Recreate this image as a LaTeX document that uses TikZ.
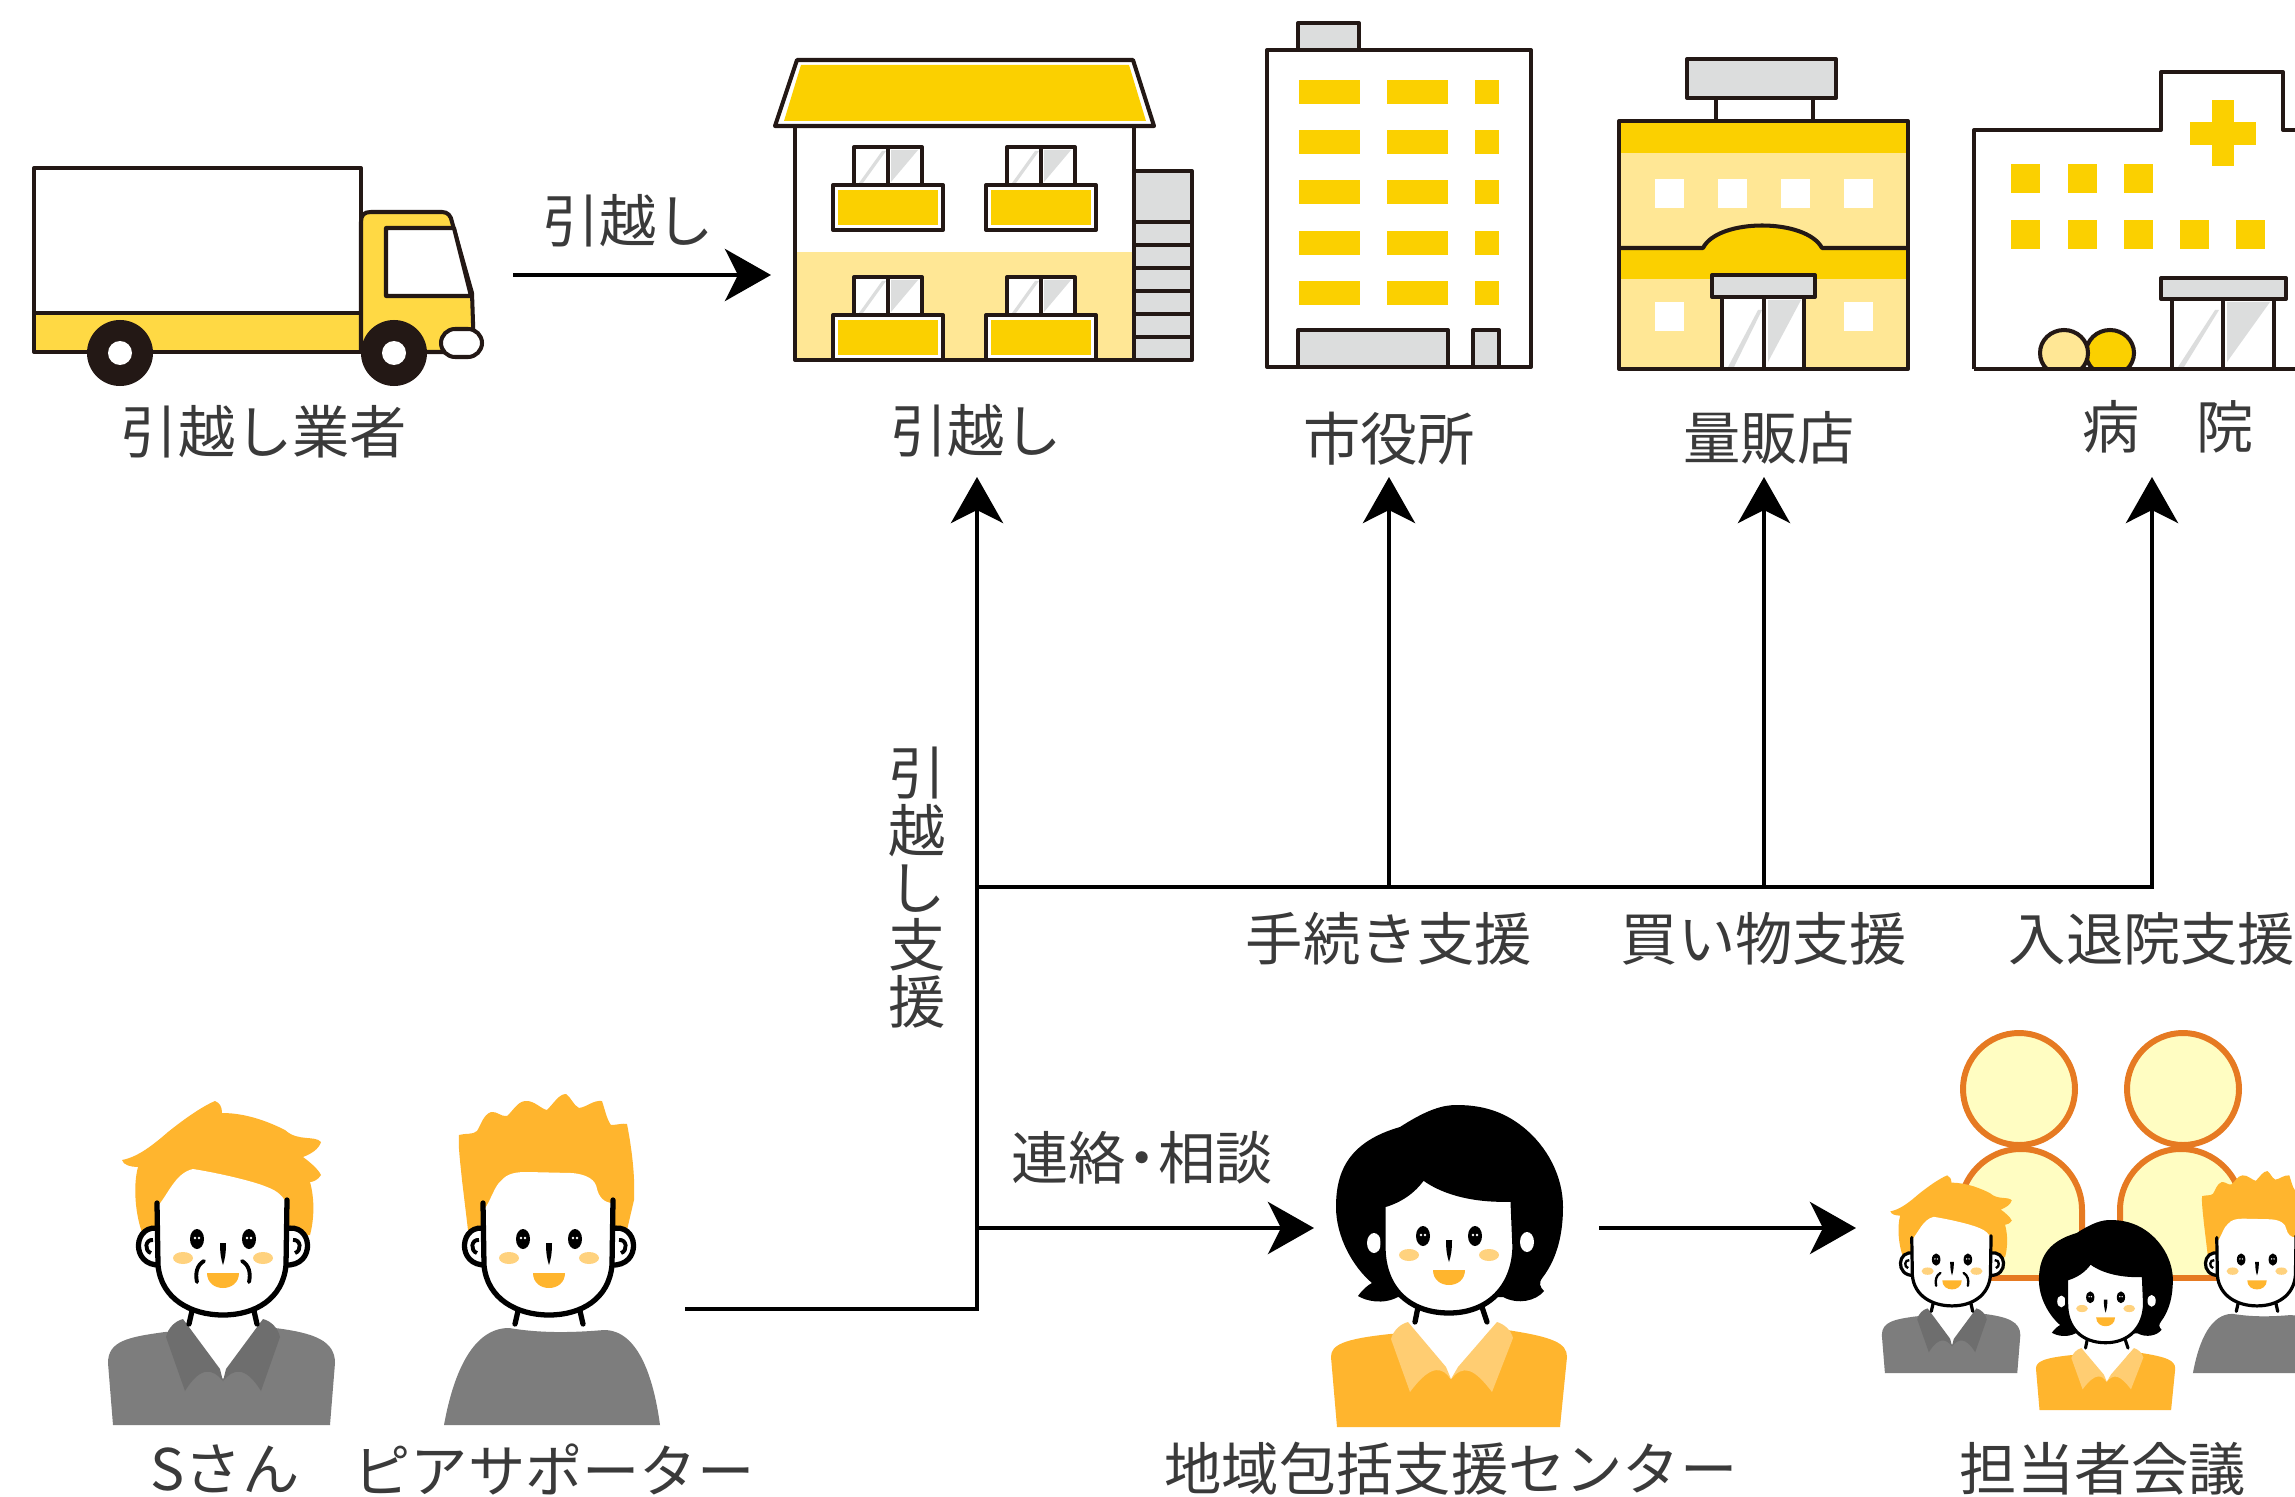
\documentclass[tikz,border=0pt]{standalone}
\usepackage{fontspec}
\setmainfont{Noto Sans CJK JP}
\usetikzlibrary{arrows.meta}

\definecolor{ink}{HTML}{231815}
\definecolor{yel}{HTML}{FBD000}
\definecolor{paleyel}{HTML}{FFE795}
\definecolor{truckyel}{HTML}{FFD944}
\definecolor{lgray}{HTML}{DCDDDD}
\definecolor{txt}{HTML}{3A3A3A}
\definecolor{hairc}{HTML}{FFB52E}
\definecolor{cheekc}{HTML}{FFD27E}
\definecolor{shirtc}{HTML}{7D7D7D}
\definecolor{collarc}{HTML}{6E6E6E}
\definecolor{lcollarc}{HTML}{FFCD72}
\definecolor{ghostfill}{HTML}{FFFDC2}
\definecolor{ghostline}{HTML}{E67A22}

\tikzset{
	build/.style={draw=ink, line width=1.15pt, line join=round},
	arr/.style={line width=1.3pt, -{Stealth[length=4.6mm,width=5.2mm,inset=1.3mm]}},
	lab/.style={text=txt, inner sep=0pt, font=\fontsize{16.3pt}{16.3pt}\selectfont},
}

% balcony with window, #1 = centre x, #2 = top of window
\newcommand{\balcony}[2]{
	\filldraw[build, fill=white] (#1-34,#2) rectangle (#1+34,#2+38);
	\fill[lgray] (#1-29,#2+36) -- (#1-6,#2+4) -- (#1-2,#2+4) -- (#1-25,#2+36) -- cycle;
	\fill[lgray] (#1+3,#2+3) -- (#1+30,#2+3) -- (#1+3,#2+35) -- cycle;
	\draw[build] (#1,#2) -- (#1,#2+38);
	\filldraw[build, fill=white] (#1-55,#2+38) rectangle (#1+55,#2+83);
	\fill[yel] (#1-50,#2+43) rectangle (#1+50,#2+78);
}

% eyes, nose, cheeks and mouth
\newcommand{\faceparts}{
	\foreach \s in {1,-1}{
		\fill[black] (\s*26,-186) ellipse [x radius=7, y radius=10];
		\fill[white] (\s*26-2,-187) circle (1.3) (\s*26+2,-187) circle (1.3);
		\fill[cheekc] (\s*40,-167) ellipse [x radius=10, y radius=6];
	}
	\fill[black] (-3,-182) .. controls (-3,-172) and (-2,-166) .. (0,-160) .. controls (2,-166) and (3,-172) .. (3,-182) -- cycle;
	\fill[hairc] (-16,-152) -- (16,-152) .. controls (16,-142) and (8,-137) .. (0,-137) .. controls (-8,-137) and (-16,-142) .. (-16,-152) -- cycle;
}

% ears, chin line and neck of the two men
\newcommand{\manhead}{
	\foreach \s in {1,-1}{
		\begin{scope}[xscale=\s]
		\filldraw[fill=white, draw=black, line width=\lw pt] (-62,-196) .. controls (-90,-204) and (-94,-158) .. (-62,-160);
		\draw[black, line width=\lwt pt] (-70,-185) .. controls (-78,-186) and (-79,-174) .. (-72,-172);
		\draw[black, line width=\lw pt, line cap=round] (-31,-114) -- (-34,-101);
		\end{scope}
	}
}
\newcommand{\chinline}{
	\draw[black, line width=\lw pt, line cap=round] (-66,-222) -- (-65,-160) .. controls (-62,-126) and (-32,-110) .. (0,-110) .. controls (32,-110) and (60,-126) .. (63,-160) -- (64,-225);
}

\newcommand{\oldman}[3]{
	\begin{scope}[shift={(#1,#2)},scale=#3]
	\pgfmathsetmacro\lw{1.5*#3}
	\pgfmathsetmacro\lwt{1.1*#3}
	\fill[shirtc] (-110,0) -- (-115,-62) .. controls (-115,-84) and (-95,-88) .. (-58,-93) -- (52,-97) .. controls (92,-92) and (112,-84) .. (112,-62) -- (107,0) -- cycle;
	\fill[white] (-42,-106) -- (0,-46) -- (42,-106) -- cycle;
	\foreach \s in {1,-1}{
		\fill[collarc, xscale=\s] (-40,-106) -- (-3,-56) -- (0,-44) .. controls (-10,-56) and (-22,-60) .. (-38,-34) -- (-57,-88) .. controls (-55,-97) and (-48,-104) .. (-40,-106) -- cycle;
	}
	\fill[hairc] (-101,-265) .. controls (-85,-268) and (-70,-280) .. (-55,-293) .. controls (-40,-305) and (-22,-318) .. (-8,-324) .. controls (-3,-322) and (-1,-318) .. (-1,-312) .. controls (25,-312) and (48,-302) .. (62,-295) .. controls (75,-283) and (92,-290) .. (98,-283) .. controls (96,-276) and (88,-271) .. (80,-268) .. controls (88,-262) and (95,-256) .. (98,-250) .. controls (95,-245) and (90,-243) .. (87,-243) .. controls (92,-225) and (91,-205) .. (87,-190) -- (-80,-190) .. controls (-88,-210) and (-90,-240) .. (-85,-258) .. controls (-92,-258) and (-100,-260) .. (-101,-265) -- cycle;
	\manhead
	\fill[white] (-66,-218) .. controls (-55,-230) and (-48,-252) .. (-30,-256) .. controls (-5,-252) and (30,-244) .. (44,-238) .. controls (55,-234) and (61,-228) .. (64,-220) -- (63,-160) .. controls (60,-126) and (32,-110) .. (0,-110) .. controls (-32,-110) and (-62,-126) .. (-65,-160) -- cycle;
	\chinline
	\faceparts
	\foreach \s in {1,-1}{
		\draw[black, xscale=\s, line width=\lwt pt, line cap=round] (-19,-164) .. controls (-26,-160) and (-28,-152) .. (-26,-143);
	}
	\end{scope}
}

\newcommand{\peer}[3]{
	\begin{scope}[shift={(#1,#2)},scale=#3]
	\pgfmathsetmacro\lw{1.5*#3}
	\pgfmathsetmacro\lwt{1.1*#3}
	\fill[shirtc] (-105,0) .. controls (-95,-55) and (-75,-97) .. (-40,-97) .. controls (-10,-92) and (20,-92) .. (55,-95) .. controls (90,-95) and (105,-45) .. (111,0) -- cycle;
	\fill[hairc] (-90,-290) .. controls (-84,-292) and (-76,-290) .. (-72,-294) .. controls (-68,-300) and (-66,-310) .. (-58,-313) .. controls (-52,-314) and (-48,-308) .. (-42,-309) .. controls (-36,-314) and (-32,-323) .. (-24,-324) .. controls (-15,-325) and (-8,-316) .. (-2,-315) .. controls (5,-322) and (10,-331) .. (17,-331) .. controls (22,-328) and (24,-320) .. (30,-317) .. controls (38,-318) and (44,-325) .. (53,-324) .. controls (56,-315) and (58,-305) .. (62,-300) .. controls (68,-300) and (73,-302) .. (78,-301) .. controls (84,-270) and (86,-245) .. (85,-225) -- (78,-195) -- (-81,-195) -- (-87,-245) .. controls (-89,-265) and (-91,-280) .. (-90,-290) -- cycle;
	\manhead
	\fill[white] (-65,-215) .. controls (-58,-225) and (-54,-240) .. (-48,-244) .. controls (-42,-252) and (-32,-253) .. (-22,-253) -- (22,-252) .. controls (38,-251) and (47,-245) .. (48,-236) .. controls (50,-228) and (55,-222) .. (64,-222) -- (63,-160) .. controls (60,-126) and (32,-110) .. (0,-110) .. controls (-32,-110) and (-62,-126) .. (-65,-160) -- cycle;
	\chinline
	\faceparts
	\end{scope}
}

\newcommand{\helper}[3]{
	\begin{scope}[shift={(#1,#2)},scale=#3]
	\pgfmathsetmacro\lw{1.5*#3}
	\fill[hairc] (-111,0) -- (-117,-70) .. controls (-117,-82) and (-105,-88) .. (-58,-93) -- (59,-97) .. controls (105,-90) and (119,-84) .. (119,-70) -- (112,0) -- cycle;
	\fill[white] (-42,-107) -- (3,-48) -- (50,-107) -- cycle;
	\fill[lcollarc] (-40,-105) -- (-2,-60) -- (3,-48) .. controls (-5,-58) and (-15,-66) .. (-38,-35) -- (-57,-88) .. controls (-55,-96) and (-48,-103) .. (-40,-105) -- cycle;
	\fill[lcollarc] (49,-105) .. controls (56,-103) and (63,-97) .. (65,-89) -- (44,-35) .. controls (25,-60) and (15,-62) .. (3,-48) -- (10,-60) -- cycle;
	\draw[black, line width=\lw pt, line cap=round] (-30,-120) -- (-33,-105) (34,-120) -- (39,-105);
	\fill[black] (-48,-300) .. controls (-20,-318) and (-5,-322) .. (9,-322) .. controls (40,-322) and (60,-312) .. (75,-300) .. controls (100,-280) and (115,-250) .. (115,-220) .. controls (115,-195) and (110,-170) .. (95,-150) .. controls (90,-144) and (92,-140) .. (96,-136) .. controls (88,-126) and (70,-122) .. (55,-130) -- (-50,-130) .. controls (-65,-122) and (-82,-126) .. (-90,-131) .. controls (-85,-138) and (-80,-142) .. (-76,-144) .. controls (-95,-160) and (-112,-190) .. (-112,-220) .. controls (-112,-255) and (-100,-285) .. (-48,-300) -- cycle;
	\fill[white] (-74,-184) ellipse [x radius=7, y radius=10] (79,-185) ellipse [x radius=7, y radius=10];
	\filldraw[fill=white, draw=black, line width=\lw pt] (-65,-222) .. controls (-50,-226) and (-35,-235) .. (-25,-250) .. controls (-10,-238) and (20,-226) .. (65,-228) -- (67,-180) .. controls (66,-140) and (40,-114) .. (1,-114) .. controls (-40,-114) and (-65,-140) .. (-65,-180) -- cycle;
	\begin{scope}[shift={(1,-5)}]
	\faceparts
	\end{scope}
	\end{scope}
}

\begin{document}
\begin{tikzpicture}[x=0.1mm,y=-0.1mm]
	\useasboundingbox (0,0) rectangle (2295,1497);
	\fill[white] (0,0) rectangle (2295,1497);
	\clip (0,0) rectangle (2295,1497);

	% truck
	\filldraw[build, fill=white] (34,168) rectangle (361,313);
	\filldraw[build, fill=truckyel] (34,313) rectangle (361,352);
	\filldraw[build, fill=truckyel] (361,352) -- (361,222) .. controls (361,215) and (364,212) .. (371,212) -- (442,212) .. controls (448,212) and (451,216) .. (452,222) -- (472,293) -- (474,352) -- cycle;
	\filldraw[build, fill=white] (386,228) -- (454,228) -- (471,296) -- (386,296) -- cycle;
	\filldraw[build, fill=white, rounded corners=4] (441,329) rectangle (482,357);
	\foreach \wx in {120,394}{
		\fill[ink] (\wx,353) circle (33);
		\fill[white] (\wx,353) circle (12);
	}

	% apartment house
	\filldraw[build, fill=white] (775,126) -- (797,60) -- (1133,60) -- (1154,126) -- cycle;
	\fill[yel] (784,121) -- (801,65) -- (1129,65) -- (1146,121) -- cycle;
	\fill[paleyel] (795,252) rectangle (1134,360);
	\draw[build] (795,126) rectangle (1134,360);
	\filldraw[build, fill=lgray] (1134,171) rectangle (1192,222);
	\foreach \i in {0,...,5}{
		\filldraw[build, fill=lgray] (1134,222+23*\i) rectangle (1192,245+23*\i);
	}
	\foreach \bx/\by in {888/147,1041/147,888/277,1041/277}{
		\balcony{\bx}{\by}
	}

	% city hall
	\filldraw[build, fill=lgray] (1298,23) rectangle (1359,50);
	\draw[build] (1267,50) rectangle (1531,367);
	\foreach \y in {80,130,180,231,281}{
		\fill[yel] (1299,\y) rectangle (1360,\y+24);
		\fill[yel] (1387,\y) rectangle (1448,\y+24);
		\fill[yel] (1475,\y) rectangle (1499,\y+24);
	}
	\filldraw[build, fill=lgray] (1298,367) rectangle (1448,330);
	\filldraw[build, fill=lgray] (1473,367) rectangle (1499,330);

	% store
	\fill[paleyel] (1619,121) rectangle (1908,369);
	\fill[yel] (1619,121) rectangle (1908,153);
	\fill[yel] (1619,248) rectangle (1908,279);
	\fill[yel] (1703,248) .. controls (1718,218) and (1806,218) .. (1822,248) -- cycle;
	\foreach \x in {1655,1718,1781,1844}{
		\fill[white] (\x,179) rectangle (\x+29,208);
	}
	\foreach \x in {1655,1844}{
		\fill[white] (\x,302) rectangle (\x+29,331);
	}
	\draw[build] (1619,248) -- (1703,248) .. controls (1718,218) and (1806,218) .. (1822,248) -- (1908,248);
	\filldraw[build, fill=white] (1722,297) rectangle (1804,369);
	\fill[lgray] (1728,367) -- (1758,310) -- (1762,310) -- (1734,367) -- cycle;
	\fill[lgray] (1768,300) -- (1801,300) -- (1768,362) -- cycle;
	\draw[build] (1764,297) -- (1764,369);
	\filldraw[build, fill=lgray] (1712,275) rectangle (1815,297);
	\filldraw[build, fill=lgray] (1687,59) rectangle (1836,98);
	\draw[build] (1716,98) -- (1716,121) (1813,98) -- (1813,121);
	\draw[build] (1619,121) rectangle (1908,369);

	% hospital
	\draw[build] (1974,369) -- (1974,130) -- (2161,130) -- (2161,72) -- (2283,72) -- (2283,130) -- (2300,130);
	\fill[yel] (2212,100) rectangle (2234,166);
	\fill[yel] (2190,122) rectangle (2256,145);
	\foreach \x in {2011,2068,2124}{
		\fill[yel] (\x,164) rectangle (\x+29,193);
	}
	\foreach \x in {2011,2068,2124,2180,2236}{
		\fill[yel] (\x,220) rectangle (\x+29,249);
	}
	\begin{scope}
		\clip (2000,300) rectangle (2200,369);
		\filldraw[build, fill=yel] (2110,353) ellipse [x radius=24, y radius=23];
		\filldraw[build, fill=paleyel] (2064,353) ellipse [x radius=24, y radius=23];
	\end{scope}
	\filldraw[build, fill=white] (2172,299) rectangle (2274,369);
	\fill[lgray] (2178,367) -- (2215,310) -- (2219,310) -- (2184,367) -- cycle;
	\fill[lgray] (2227,302) -- (2270,302) -- (2227,362) -- cycle;
	\draw[build] (2223,299) -- (2223,369);
	\filldraw[build, fill=lgray] (2161,278) rectangle (2286,299);
	\draw[build] (1974,369) -- (2300,369);

	% labels
	\node[lab] (moverlbl) at (264,432) {引越し業者};
	\node[lab] (movelbl) at (628,221) {引越し};
	\node[lab] (houselbl) at (976,431) {引越し};
	\node[lab] (citylbl) at (1389,439) {市役所};
	\node[lab] (storelbl) at (1769,438) {量販店};
	\node[lab] (hosplbl) at (2168,427) {病　院};
	\node[lab, align=center] (movesup) at (917,888) {引\\越\\し\\支\\援};
	\node[lab] (proclbl) at (1389,939) {手続き支援};
	\node[lab] (shoplbl) at (1764,939) {買い物支援};
	\node[lab] (stay) at (2152,939) {入退院支援};
	\node[lab] (contactlbl) at (1142,1158) {連絡\kern-0.22em・\kern-0.22em相談};
	\node[lab] (slbl) at (225,1469) {Sさん};
	\node[lab] (peerlbl) at (554,1469) {ピアサポーター};
	\node[lab] (centerlbl) at (1451,1469) {地域包括支援センター};
	\node[lab] (meetlbl) at (2103,1469) {担当者会議};

	% connectors
	\coordinate (truck) at (513,275);
	\coordinate (houseW) at (771,275);
	\coordinate (peerR) at (685,1309);
	\coordinate (house) at (977,477);
	\coordinate (split) at (977,887);
	\coordinate (city) at (1389,477);
	\coordinate (store) at (1764,477);
	\coordinate (hospital) at (2152,477);
	\coordinate (contact) at (977,1228);
	\coordinate (centerW) at (1314,1228);
	\coordinate (centerE) at (1599,1228);
	\coordinate (meeting) at (1856,1228);

	\draw[arr] (truck) -- (houseW);
	\draw[arr] (peerR) -| (house);
	\draw[arr] (split) -| (city);
	\draw[arr] (split) -| (store);
	\draw[arr] (split) -| (hospital);
	\draw[arr] (contact) -- (centerW);
	\draw[arr] (centerE) -- (meeting);

	% people
	\oldman{223}{1425}{1}
	\peer{549}{1425}{1}
	\helper{1448}{1427}{1}

	% meeting
	\foreach \cx/\hx in {2021/2019,2181/2183}{
		\filldraw[draw=ghostline, fill=ghostfill, line width=1.7pt] (\cx-61,1278) -- (\cx-61,1210) arc[start angle=180, end angle=360, radius=61] -- (\cx+61,1278) -- cycle;
		\filldraw[draw=ghostline, fill=ghostfill, line width=1.7pt] (\hx,1089) circle (56);
	}
	\oldman{1952}{1373}{0.61}
	\peer{2257}{1373}{0.61}
	\helper{2105}{1410}{0.59}
\end{tikzpicture}
\end{document}
